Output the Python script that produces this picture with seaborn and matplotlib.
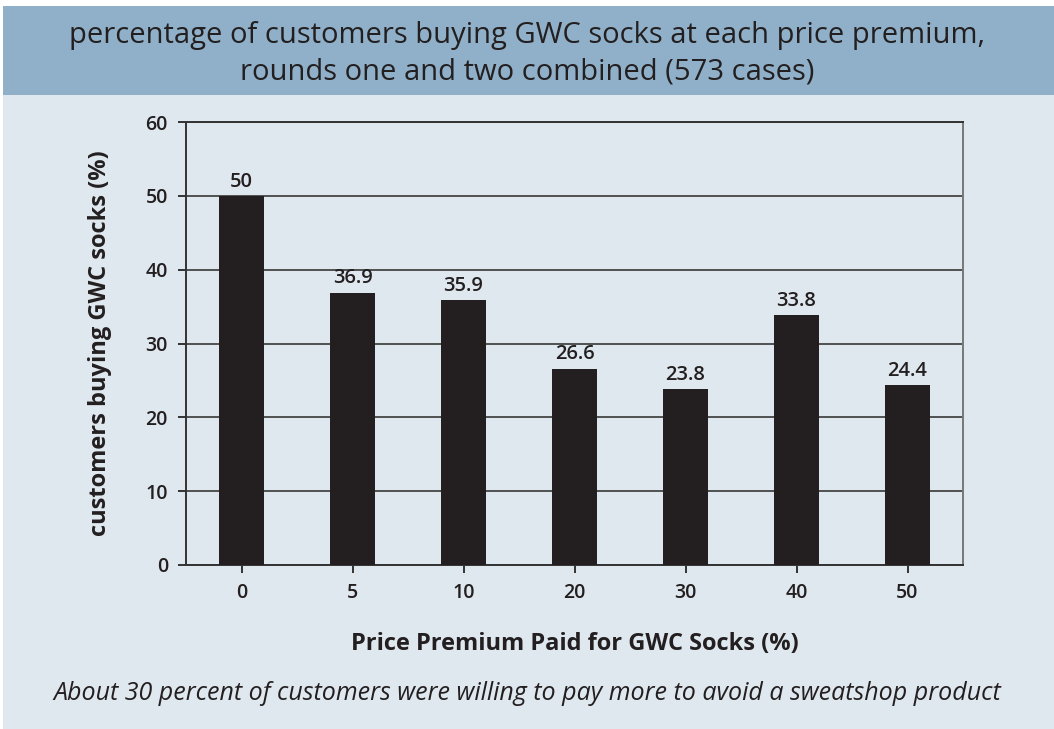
import matplotlib.pyplot as plt
import seaborn as sns
import pandas as pd
from matplotlib.patches import Rectangle

# data
premiums = ["0", "5", "10", "20", "30", "40", "50"]
buying_pct = [50, 36.9, 35.9, 26.6, 23.8, 33.8, 24.4]
value_labels = ["50", "36.9", "35.9", "26.6", "23.8", "33.8", "24.4"]

title = "percentage of customers buying GWC socks at each price premium,\nrounds one and two combined (573 cases)"
x_label = "Price Premium Paid for GWC Socks (%)"
y_label = "customers buying GWC socks (%)"
caption = "About 30 percent of customers were willing to pay more to avoid a sweatshop product"

df = pd.DataFrame({"premium": premiums, "pct": buying_pct})

sns.set_style("white")
plt.rcParams["font.family"] = ["Open Sans", "DejaVu Sans"]

bg_light = "#e0e8ef"
band = "#8fb0c8"
ink = "#231f20"
grid_col = "#505050"

fig = plt.figure(figsize=(10.54, 7.29), dpi=100)
W, H = 1054, 729

# backgrounds: light panel + blue title band
fig.patches.append(Rectangle((3 / W, 0), 1, 1 - 95 / H, transform=fig.transFigure,
                             facecolor=bg_light, edgecolor="none", zorder=-2))
fig.patches.append(Rectangle((3 / W, 1 - 95 / H), 1, 89 / H, transform=fig.transFigure,
                             facecolor=band, edgecolor="none", zorder=-2))

ax = fig.add_axes([186 / W, 1 - 565 / H, (963 - 186) / W, (565 - 122) / H])
ax.set_facecolor(bg_light)

sns.barplot(data=df, x="premium", y="pct", order=premiums, color=ink,
            width=0.4, saturation=1, ax=ax, zorder=3)
for p in ax.patches:
    p.set_edgecolor("none")

ax.bar_label(ax.containers[0], labels=value_labels, padding=3,
             fontsize=14.5, color=ink, fontweight="semibold")

ax.set_xlim(-0.5, 6.5)
ax.set_ylim(0, 60)
ax.set_yticks(range(0, 61, 10))
ax.yaxis.grid(True, color=grid_col, linewidth=1.4)
ax.set_axisbelow(True)

for s in ax.spines.values():
    s.set_visible(True)
    s.set_color("#333333")
    s.set_linewidth(1.4)
ax.spines["right"].set_color("#777777")

ax.tick_params(axis="both", direction="out", length=6, width=1.4, color="#333333",
               labelsize=14, labelcolor=ink, left=True, bottom=True, pad=7)
for lab in ax.get_xticklabels() + ax.get_yticklabels():
    lab.set_fontweight("semibold")

ax.set_xlabel(x_label, fontsize=17, fontweight="bold", color=ink, labelpad=21)
ax.set_ylabel(y_label, fontsize=17, fontweight="bold", color=ink, labelpad=24)

fig.text(0.5, 1 - 54 / H, title, ha="center", va="center", fontsize=21,
         color=ink, linespacing=1.35)
fig.text(0.5, 1 - 693 / H, caption, ha="center", va="center", fontsize=18,
         style="italic", color=ink)

fig.savefig("out.png", dpi=100, facecolor="white")
